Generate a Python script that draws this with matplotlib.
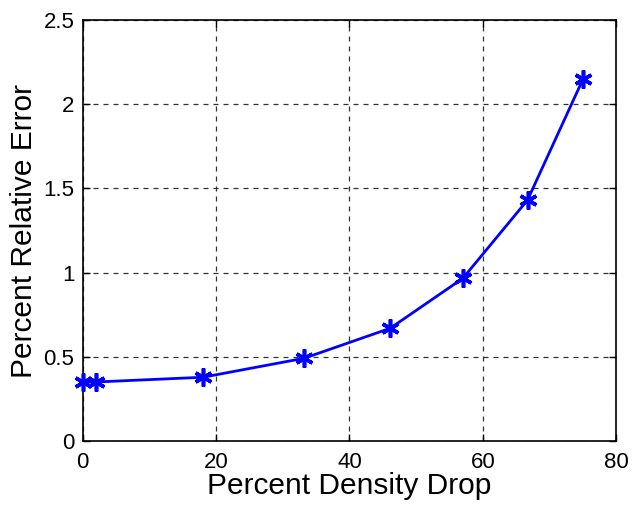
import matplotlib
matplotlib.use("Agg")
import matplotlib.pyplot as plt

plt.rcParams['font.family'] = ['Liberation Sans', 'DejaVu Sans']

density_drop = [0, 2, 18, 33.2, 46.1, 57.0, 66.7, 75.0]
relative_error = [0.35, 0.35, 0.378, 0.491, 0.669, 0.966, 1.431, 2.148]
x_ticks = [0, 20, 40, 60, 80]
y_ticks = [0, 0.5, 1, 1.5, 2, 2.5]
y_tick_labels = ['0', '0.5', '1', '1.5', '2', '2.5']

fig = plt.figure(figsize=(6.32, 5.05), dpi=100)
ax = fig.add_axes([0.131, 0.127, 0.844, 0.833])

ax.plot(density_drop, relative_error, color='#0000ff', linewidth=2,
        marker=(6, 2, 0), markersize=13, markeredgewidth=2.6, clip_on=False, zorder=3)

ax.set_xlim(0, 80)
ax.set_ylim(0, 2.5)
ax.set_xticks(x_ticks)
ax.set_yticks(y_ticks)
ax.set_yticklabels(y_tick_labels)
ax.tick_params(direction='in', labelsize=16, length=5, width=1, top=True, right=True)
ax.tick_params(axis='x', pad=8)
ax.tick_params(axis='y', pad=6)
ax.grid(True, linestyle=(0, (4, 4)), color='#333333', linewidth=0.9)
for s in ax.spines.values():
    s.set_linewidth(1.2)

ax.set_xlabel('Percent Density Drop', fontsize=21.5, labelpad=-1)
ax.set_ylabel('Percent Relative Error', fontsize=21.5, labelpad=4)

fig.savefig('out.png', dpi=100)
